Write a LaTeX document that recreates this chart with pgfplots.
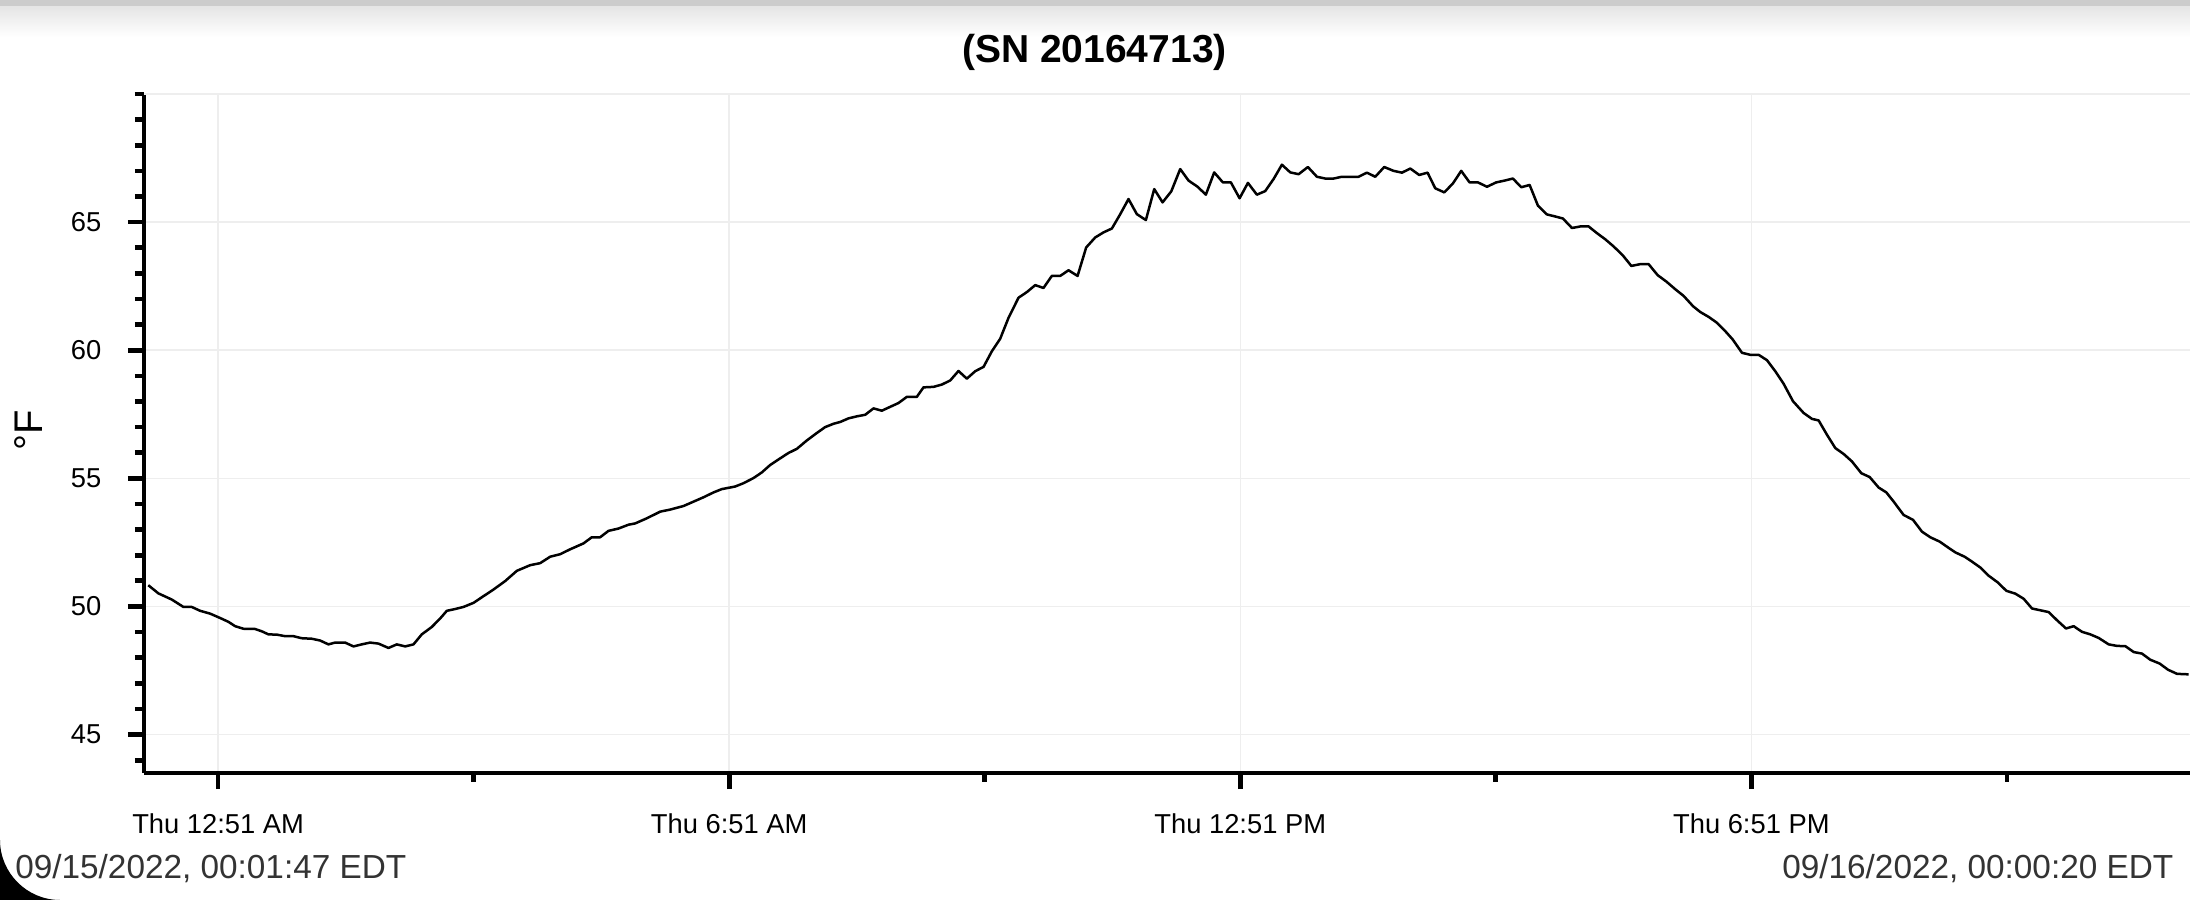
\documentclass[border=0pt]{standalone}
\usepackage{fontspec}
\setmainfont{Liberation Sans}
\usepackage{pgfplots}
\pgfplotsset{compat=1.18}
\usepackage{pgfplotstable}
\definecolor{gridc}{HTML}{EEEEEE}
\definecolor{datec}{HTML}{333333}

\pgfplotstableread{
t v
0.030 50.83
0.149 50.51
0.306 50.27
0.443 49.98
0.541 49.98
0.639 49.83
0.756 49.72
0.873 49.55
0.971 49.40
1.050 49.23
1.147 49.13
1.284 49.12
1.363 49.03
1.441 48.91
1.539 48.90
1.637 48.84
1.735 48.84
1.832 48.76
1.950 48.74
2.048 48.67
2.145 48.52
2.224 48.59
2.341 48.59
2.439 48.44
2.537 48.52
2.635 48.59
2.733 48.55
2.850 48.38
2.948 48.52
3.046 48.44
3.144 48.52
3.241 48.91
3.359 49.20
3.457 49.53
3.535 49.83
3.633 49.90
3.730 49.98
3.848 50.14
3.965 50.40
4.083 50.66
4.220 50.99
4.357 51.39
4.513 51.61
4.631 51.69
4.748 51.94
4.866 52.04
4.983 52.23
5.139 52.46
5.237 52.70
5.335 52.70
5.433 52.95
5.550 53.04
5.668 53.19
5.746 53.24
5.883 53.44
6.040 53.70
6.157 53.78
6.314 53.92
6.431 54.09
6.548 54.26
6.666 54.45
6.764 54.58
6.920 54.68
7.018 54.81
7.135 55.01
7.233 55.23
7.331 55.52
7.449 55.78
7.546 55.99
7.644 56.15
7.762 56.48
7.879 56.77
7.977 57.00
8.075 57.13
8.153 57.20
8.251 57.34
8.349 57.42
8.447 57.48
8.544 57.73
8.642 57.64
8.740 57.79
8.838 57.94
8.936 58.18
9.053 58.18
9.131 58.55
9.249 58.57
9.347 58.66
9.445 58.82
9.542 59.19
9.640 58.89
9.738 59.18
9.836 59.35
9.934 59.96
10.032 60.45
10.130 61.27
10.247 62.05
10.345 62.27
10.443 62.54
10.540 62.43
10.638 62.90
10.736 62.90
10.834 63.12
10.940 62.90
11.041 64.01
11.147 64.40
11.245 64.60
11.343 64.75
11.441 65.31
11.538 65.90
11.636 65.31
11.742 65.08
11.840 66.29
11.938 65.77
12.040 66.20
12.145 67.07
12.243 66.62
12.349 66.38
12.446 66.07
12.544 66.94
12.646 66.55
12.740 66.55
12.842 65.93
12.940 66.53
13.045 66.07
13.143 66.21
13.241 66.68
13.339 67.24
13.437 66.94
13.535 66.87
13.644 67.15
13.750 66.77
13.848 66.70
13.946 66.70
14.043 66.77
14.141 66.77
14.239 66.77
14.337 66.93
14.435 66.77
14.540 67.15
14.650 67.00
14.748 66.93
14.846 67.09
14.951 66.84
15.049 66.93
15.139 66.32
15.245 66.16
15.347 66.51
15.444 67.00
15.542 66.55
15.640 66.55
15.746 66.38
15.855 66.55
15.953 66.62
16.051 66.70
16.149 66.36
16.247 66.45
16.345 65.64
16.450 65.30
16.548 65.22
16.638 65.14
16.744 64.77
16.842 64.83
16.940 64.83
17.037 64.57
17.135 64.33
17.233 64.05
17.339 63.71
17.441 63.29
17.546 63.36
17.644 63.36
17.750 62.93
17.852 62.68
17.957 62.38
18.055 62.12
18.165 61.72
18.251 61.49
18.349 61.30
18.447 61.07
18.537 60.77
18.631 60.42
18.740 59.90
18.838 59.82
18.936 59.82
19.034 59.61
19.131 59.18
19.229 58.69
19.339 58.01
19.464 57.55
19.562 57.32
19.640 57.26
19.738 56.70
19.836 56.18
19.934 55.95
20.031 55.66
20.141 55.20
20.239 55.05
20.345 54.64
20.435 54.45
20.521 54.09
20.638 53.57
20.748 53.38
20.853 52.92
20.951 52.70
21.061 52.53
21.147 52.33
21.245 52.11
21.354 51.94
21.440 51.75
21.538 51.52
21.636 51.20
21.742 50.94
21.844 50.61
21.949 50.50
22.047 50.30
22.145 49.92
22.243 49.85
22.341 49.78
22.439 49.46
22.544 49.14
22.634 49.23
22.732 49.01
22.830 48.91
22.928 48.77
23.045 48.52
23.143 48.46
23.241 48.45
23.339 48.22
23.436 48.16
23.534 47.92
23.644 47.77
23.742 47.53
23.847 47.37
23.984 47.35
}\temps

\begin{document}
\begin{tikzpicture}
\useasboundingbox (-43.2bp,-38.1bp) rectangle (613.8bp,231.9bp);
\fill[white] (-43.2bp,-38.1bp) rectangle (613.8bp,231.9bp);
\fill[black!20] (-43.2bp,229.8bp) rectangle (613.8bp,231.9bp);
\shade[top color=black!10, bottom color=white] (-43.2bp,220.8bp) rectangle (613.8bp,229.8bp);
\begin{axis}[
  scale only axis, width=613.8bp, height=203.7bp,
  at={(0,0)}, anchor=south west,
  xmin=-0.02, xmax=24.0, ymin=43.5, ymax=70,
  axis lines*=left,
  axis line style={-, line width=1.3bp, black},
  tick align=outside,
  major tick length=4.8bp, minor tick length=2.7bp,
  every tick/.style={black, line width=1.4bp},
  xtick={0.85,6.85,12.85,18.85},
  xticklabels={Thu 12:51 AM, Thu 6:51 AM, Thu 12:51 PM, Thu 6:51 PM},
  minor xtick={3.85,9.85,15.85,21.85},
  ytick={45,50,...,65},
  minor ytick={44,...,70},
  extra y ticks={70}, extra y tick labels={},
  extra y tick style={grid=major, major tick length=2.7bp},
  grid=major,
  major grid style={gridc, line width=0.45bp},
  /pgf/number format/assume math mode=true,
  ticklabel style={font=\fontsize{8.2bp}{9bp}\selectfont, inner sep=0pt},
  xticklabel style={anchor=north, yshift=-7.2bp},
  yticklabel style={anchor=east, xshift=-7.8bp},
  ylabel={°F},
  ylabel style={at={(axis description cs:-0.0562,0.505)}, anchor=center, font=\fontsize{12bp}{14bp}\selectfont},
]
\addplot[black, line width=0.75bp, line join=round, no markers] table[x=t, y=v] {\temps};
\end{axis}
\node[anchor=base, font=\fontsize{11.7bp}{14bp}\selectfont\bfseries] at (285.15bp,213.0bp) {(SN 20164713)};
\node[anchor=base west, inner sep=0pt, text=datec, font=\fontsize{10bp}{12bp}\selectfont] at (-38.8bp,-31.5bp) {09/15/2022, 00:01:47 EDT};
\node[anchor=base east, inner sep=0pt, text=datec, font=\fontsize{10bp}{12bp}\selectfont] at (609.0bp,-31.5bp) {09/16/2022, 00:00:20 EDT};
\fill[black] (-43.2bp,-20.1bp) .. controls (-43.2bp,-30.0bp) and (-35.1bp,-38.1bp) .. (-25.2bp,-38.1bp) -- (-43.2bp,-38.1bp) -- cycle;
\end{tikzpicture}
\end{document}
